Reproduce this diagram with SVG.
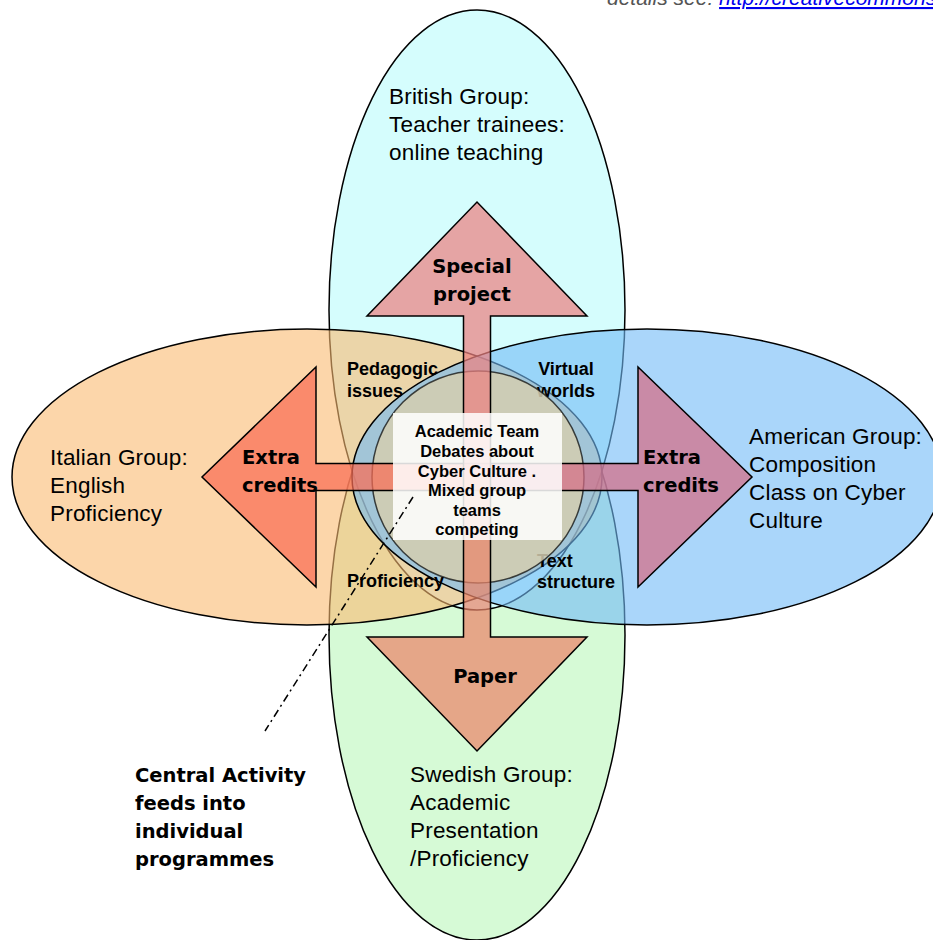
<svg xmlns="http://www.w3.org/2000/svg" width="933" height="940" viewBox="0 0 933 940">
<style>
.ell{stroke:#000;stroke-width:1.5}
.grp{font-family:"Liberation Sans",Arial,sans-serif;font-size:22.5px;letter-spacing:0.2px;fill:#000}
.arr{stroke:#000;stroke-width:1.5;fill-opacity:0.72;stroke-linejoin:miter}
.big{font-family:"DejaVu Sans",Verdana,sans-serif;font-weight:bold;font-size:19.5px;fill:#000}
.lab{font-family:"Liberation Sans",Arial,sans-serif;font-weight:bold;font-size:18px;fill:#000}
.ctr{font-family:"Liberation Sans",Arial,sans-serif;font-weight:bold;font-size:16.5px;text-anchor:middle;fill:#000}
.note{font-family:"DejaVu Sans",Verdana,sans-serif;font-weight:bold;font-size:19.5px;fill:#000}
</style>
<rect width="933" height="940" fill="#fff"/>
<text x="607" y="5" font-family="Liberation Sans, Arial, sans-serif" font-style="italic" font-size="21" fill="#555">details see: <tspan fill="#0000ee" text-decoration="underline">http://creativecommons</tspan></text>

<g id="swedish">
<ellipse class="ell" cx="477" cy="635" rx="148" ry="305" fill="#d6fad6"/>
<text class="grp" x="410" y="782">Swedish Group:</text>
<text class="grp" x="410" y="810">Academic</text>
<text class="grp" x="410" y="838">Presentation</text>
<text class="grp" x="410" y="866">/Proficiency</text>
</g>
<g id="british">
<ellipse class="ell" cx="477" cy="310" rx="148" ry="300" fill="#d5fdfd"/>
<text class="grp" x="389" y="104">British Group:</text>
<text class="grp" x="389" y="132">Teacher trainees:</text>
<text class="grp" x="389" y="160">online teaching</text>
</g>
<g id="italian">
<ellipse class="ell" cx="307" cy="477" rx="295" ry="148" fill="rgb(250,187,113)" fill-opacity="0.6"/>
<text class="grp" x="50" y="465">Italian Group:</text>
<text class="grp" x="50" y="493">English</text>
<text class="grp" x="50" y="521">Proficiency</text>
</g>
<g id="american">
<ellipse class="ell" cx="647" cy="477" rx="295" ry="148" fill="rgb(113,187,247)" fill-opacity="0.6"/>
<text class="grp" x="749" y="444">American Group:</text>
<text class="grp" x="749" y="472">Composition</text>
<text class="grp" x="749" y="500">Class on Cyber</text>
<text class="grp" x="749" y="528">Culture</text>
</g>

<g id="overlap-labels">
<text class="lab" x="347" y="375">Pedagogic</text>
<text class="lab" x="347" y="397">issues</text>
<text class="lab" x="566" y="375" text-anchor="middle">Virtual</text>
<text class="lab" x="566" y="397" text-anchor="middle">worlds</text>
<text class="lab" x="347" y="587">Proficiency</text>
<text class="lab" x="537" y="567">Text</text>
<text class="lab" x="537" y="588">structure</text>
</g>

<g id="central-circle">
<circle cx="478" cy="477" r="106" fill="#d3ccb0" fill-opacity="0.85" stroke="#000" stroke-opacity="0.7" stroke-width="1.5"/>
</g>

<g id="arrow-left">
<path class="arr" fill="rgb(249,108,84)" d="M477,463.5 H316 V367 L202,477 L316,587 V490.5 H477"/>
<text class="big" x="242" y="464">Extra</text>
<text class="big" x="242" y="492">credits</text>
</g>
<g id="arrow-right">
<path class="arr" fill="rgb(213,108,133)" d="M477,463.5 H638 V367 L752,477 L638,587 V490.5 H477"/>
<text class="big" x="643" y="464">Extra</text>
<text class="big" x="643" y="492">credits</text>
</g>
<g id="arrow-up">
<path class="arr" fill="rgb(236,129,129)" d="M463.5,477 V316 H367 L477,202 L587,316 H490.5 V477"/>
<text class="big" x="472" y="273" text-anchor="middle">Special</text>
<text class="big" x="472" y="301" text-anchor="middle">project</text>
</g>
<g id="arrow-down">
<path class="arr" fill="rgb(234,133,105)" d="M463.5,477 V637 H367 L477,751 L587,637 H490.5 V477"/>
<text class="big" x="485" y="683" text-anchor="middle">Paper</text>
</g>

<g id="central">
<rect x="393" y="413" width="169" height="127" fill="#fff" fill-opacity="0.85"/>
<text class="ctr" x="477" y="437">Academic Team</text>
<text class="ctr" x="477" y="457">Debates about</text>
<text class="ctr" x="477" y="477">Cyber Culture .</text>
<text class="ctr" x="477" y="496">Mixed group</text>
<text class="ctr" x="477" y="516">teams</text>
<text class="ctr" x="477" y="535">competing</text>
</g>

<g id="connectors">
<line x1="413" y1="497" x2="265" y2="731" stroke="#000" stroke-width="1.5" stroke-dasharray="8 4 2 4"/>
</g>

<g id="note">
<text class="note" x="135" y="782">Central Activity</text>
<text class="note" x="135" y="810">feeds into</text>
<text class="note" x="135" y="838">individual</text>
<text class="note" x="135" y="866">programmes</text>
</g>
</svg>
